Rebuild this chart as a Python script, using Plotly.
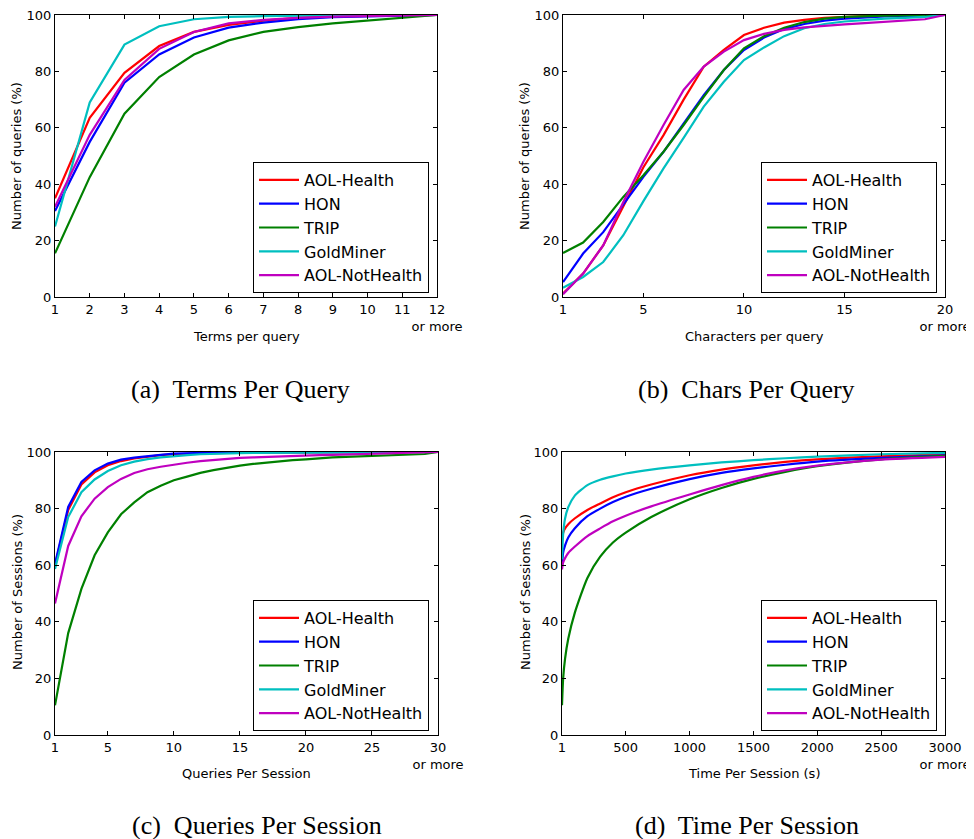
import plotly.graph_objects as go

# page body has an 8px margin; work in reference-pixel coords and shift
OFF = 8
W, H = 974 - OFF, 839 - OFF


def px(x):
    return (x - OFF) / W


def py(y):
    return 1 - (y - OFF) / H


series_names = ["AOL-Health", "HON", "TRIP", "GoldMiner", "AOL-NotHealth"]
series_colors = ["#ff0000", "#0000ff", "#008000", "#00bfbf", "#bf00bf"]

# (a) Terms per query
terms_x = list(range(1, 13))
terms_aol_health = [35, 63.5, 79.5, 89, 94, 96.5, 98, 99, 99.5, 99.7, 99.9, 100]
terms_hon = [30.5, 55, 76, 86, 92, 95.5, 97.3, 98.5, 99.2, 99.5, 99.7, 100]
terms_trip = [15.5, 42.5, 65, 78, 86, 91, 94, 95.7, 97, 98, 98.8, 100]
terms_goldminer = [25, 69, 89.5, 96, 98.5, 99.3, 99.6, 99.8, 99.9, 100, 100, 100]
terms_aol_nothealth = [32, 57.5, 77, 88, 94, 97, 98.3, 99, 99.4, 99.6, 99.8, 100]
terms_ticks = [str(i) for i in range(1, 12)] + ["12<br>or more"]

# (b) Characters per query
chars_x = list(range(1, 21))
chars_aol_health = [1.2, 8.3, 18.3, 32, 46, 57.4, 70, 81.7, 87.6, 92.9, 95.5, 97.3, 98.3, 99, 99.4, 99.6, 99.8, 99.9, 100, 100]
chars_hon = [5.3, 15.4, 23, 33, 42.6, 51.5, 61.5, 71.6, 80.5, 87.6, 92, 95, 96.8, 98, 98.7, 99.2, 99.5, 99.6, 99.7, 100]
chars_trip = [15.6, 19.3, 26.6, 35.5, 43.2, 51.5, 61, 71, 80.5, 88.2, 92.5, 95.5, 97.5, 98.7, 99.3, 99.6, 99.8, 99.9, 100, 100]
chars_goldminer = [3.3, 7.1, 12.4, 21.9, 34, 45.6, 56.4, 67.5, 76.3, 84, 88.5, 92.5, 95.3, 96.8, 97.7, 98.3, 98.7, 99, 99.3, 100]
chars_aol_nothealth = [1, 8.3, 18.3, 33.7, 48, 61, 73.4, 81.7, 87, 91.1, 93.3, 94.7, 95.6, 96.2, 96.7, 97.1, 97.6, 98, 98.5, 100]
chars_tickvals = [1, 5, 10, 15, 20]
chars_ticks = ["1", "5", "10", "15", "20<br>or more"]

# (c) Queries per session
qps_x = list(range(1, 31))
qps_aol_health = [60, 79.5, 88.5, 92.8, 95.3, 96.8, 97.7, 98.4, 98.9, 99.2, 99.4, 99.5, 99.6, 99.7, 99.75, 99.8, 99.85, 99.9, 99.9, 99.9, 99.92, 99.94, 99.95, 99.96, 99.97, 99.98, 99.98, 99.99, 99.99, 100]
qps_hon = [60.5, 80.6, 89.4, 93.5, 95.9, 97.3, 98, 98.6, 99, 99.4, 99.6, 99.7, 99.8, 99.85, 99.9, 99.9, 99.92, 99.94, 99.95, 99.96, 99.97, 99.97, 99.98, 99.98, 99.99, 99.99, 99.99, 99.99, 99.99, 100]
qps_trip = [10.5, 36, 51.6, 63.5, 71.6, 78, 82.2, 85.8, 88.1, 90, 91.3, 92.6, 93.6, 94.5, 95.2, 95.8, 96.3, 96.8, 97.1, 97.4, 97.8, 98.1, 98.3, 98.5, 98.7, 98.9, 99, 99.1, 99.3, 100]
qps_goldminer = [58.7, 77, 85.8, 90.3, 93.3, 95.3, 96.6, 97.5, 98.1, 98.6, 98.9, 99.2, 99.4, 99.5, 99.6, 99.7, 99.75, 99.8, 99.85, 99.88, 99.9, 99.92, 99.94, 99.95, 99.96, 99.97, 99.98, 99.98, 99.99, 100]
qps_aol_nothealth = [46.5, 66.8, 77.3, 83.5, 87.6, 90.5, 92.6, 93.9, 94.8, 95.6, 96.2, 96.8, 97.2, 97.6, 97.9, 98.1, 98.3, 98.5, 98.6, 98.8, 98.9, 99, 99.1, 99.2, 99.3, 99.4, 99.5, 99.6, 99.7, 100]
qps_tickvals = [1, 5, 10, 15, 20, 25, 30]
qps_ticks = ["1", "5", "10", "15", "20", "25", "30<br>or more"]

# (d) Time per session (s)
tps_x = [1, 10, 25, 50, 100, 200, 300, 400, 500, 700, 1000, 1250, 1500, 1750, 2000, 2500, 3000]
tps_aol_health = [69, 71.5, 73, 74.5, 76.5, 79.5, 81.8, 84, 85.8, 88.5, 91.8, 93.8, 95.3, 96.5, 97.4, 98.5, 99.2]
tps_hon = [60, 64.5, 67, 69.8, 73, 77.3, 80, 82.3, 84.2, 87, 90.4, 92.6, 94.2, 95.5, 96.6, 97.9, 98.8]
tps_trip = [10.5, 20, 27, 34, 43, 55.5, 63, 68, 71.5, 77, 83.3, 87.3, 90.5, 93, 95, 97.4, 98.6]
tps_goldminer = [62, 71, 76.5, 80.5, 84.5, 88.3, 90.2, 91.4, 92.4, 93.8, 95.3, 96.3, 97.1, 97.8, 98.4, 99.2, 99.7]
tps_aol_nothealth = [58.5, 61, 62.5, 64.3, 66.5, 70.3, 73, 75.5, 77.5, 80.8, 85, 88.3, 91.2, 93.5, 95.2, 97.3, 98.3]
tps_tickvals = [1, 500, 1000, 1500, 2000, 2500, 3000]
tps_ticks = ["1", "500", "1000", "1500", "2000", "2500", "3000<br>or more"]

y_tickvals = [0, 20, 40, 60, 80, 100]

panels = [
    dict(x=terms_x, ys=[terms_aol_health, terms_hon, terms_trip, terms_goldminer, terms_aol_nothealth],
         rng=[1, 12], tv=terms_x, tt=terms_ticks, shape="linear"),
    dict(x=chars_x, ys=[chars_aol_health, chars_hon, chars_trip, chars_goldminer, chars_aol_nothealth],
         rng=[1, 20], tv=chars_tickvals, tt=chars_ticks, shape="linear"),
    dict(x=qps_x, ys=[qps_aol_health, qps_hon, qps_trip, qps_goldminer, qps_aol_nothealth],
         rng=[1, 30], tv=qps_tickvals, tt=qps_ticks, shape="linear"),
    dict(x=tps_x, ys=[tps_aol_health, tps_hon, tps_trip, tps_goldminer, tps_aol_nothealth],
         rng=[1, 3000], tv=tps_tickvals, tt=tps_ticks, shape="spline"),
]

# pixel boxes in reference coords (left, right, top, bottom)
boxes = [(55, 437, 15, 297), (563, 945, 15, 297), (55, 438, 452, 735), (562, 945, 452, 735)]
legend_pos = [(429, 293), (937, 293), (429, 731), (937, 731)]

fig = go.Figure()
layout = dict(width=W, height=H, margin=dict(l=0, r=0, t=0, b=0, autoexpand=False),
              paper_bgcolor="white", plot_bgcolor="white",
              font=dict(family="DejaVu Sans", size=13, color="black"),
              showlegend=True)

for i, p in enumerate(panels):
    k = "" if i == 0 else str(i + 1)
    leg = "legend" if i == 0 else f"legend{i + 1}"
    for name, color, ys in zip(series_names, series_colors, p["ys"]):
        fig.add_trace(go.Scatter(x=p["x"], y=ys, mode="lines", name=name,
                                 line=dict(color=color, width=2.2, shape=p["shape"], smoothing=0.6),
                                 xaxis="x" + k, yaxis="y" + k, legend=leg, showlegend=True))
    l, r, t, b = boxes[i]
    axcommon = dict(showline=True, linecolor="black", linewidth=1, mirror="allticks",
                    ticks="inside", ticklen=4, tickwidth=1, tickcolor="black",
                    showgrid=False, zeroline=False, automargin=False, tickangle=0,
                    tickfont=dict(size=13, color="black"))
    layout["xaxis" + k] = dict(domain=[px(l), px(r)], anchor="y" + k, range=p["rng"],
                               tickvals=p["tv"], ticktext=p["tt"], **axcommon)
    layout["yaxis" + k] = dict(domain=[py(b), py(t)], anchor="x" + k, range=[0, 100],
                               tickvals=y_tickvals, **axcommon)
    lx, ly = legend_pos[i]
    layout[leg] = dict(x=px(lx), y=py(ly), xanchor="right", yanchor="bottom",
                       xref="paper", yref="paper",
                       bordercolor="black", borderwidth=1, bgcolor="white",
                       font=dict(family="DejaVu Sans", size=16, color="black"),
                       itemwidth=40, traceorder="normal")

fig.update_layout(**layout)

annos = [
    ("Number of queries (%)", 17, 156, -90), ("Number of queries (%)", 525, 156, -90),
    ("Number of Sessions (%)", 17, 592, -90), ("Number of Sessions (%)", 525, 592, -90),
    ("Terms per query", 246, 336, 0), ("Characters per query", 754, 336, 0),
    ("Queries Per Session", 246, 773, 0), ("Time Per Session (s)", 754, 773, 0),
]
for text, x, y, ang in annos:
    fig.add_annotation(text=text, x=px(x), y=py(y), xref="paper", yref="paper",
                       showarrow=False, textangle=ang, xanchor="center", yanchor="middle",
                       font=dict(family="DejaVu Sans", size=13, color="black"))

captions = [("(a)  Terms Per Query", 240, 390), ("(b)  Chars Per Query", 746, 390),
            ("(c)  Queries Per Session", 257, 825), ("(d)  Time Per Session", 747, 825)]
for text, x, y in captions:
    fig.add_annotation(text=text, x=px(x), y=py(y), xref="paper", yref="paper",
                       showarrow=False, xanchor="center", yanchor="middle",
                       font=dict(family="Liberation Serif", size=26, color="black"))

fig.write_html("out.html")
